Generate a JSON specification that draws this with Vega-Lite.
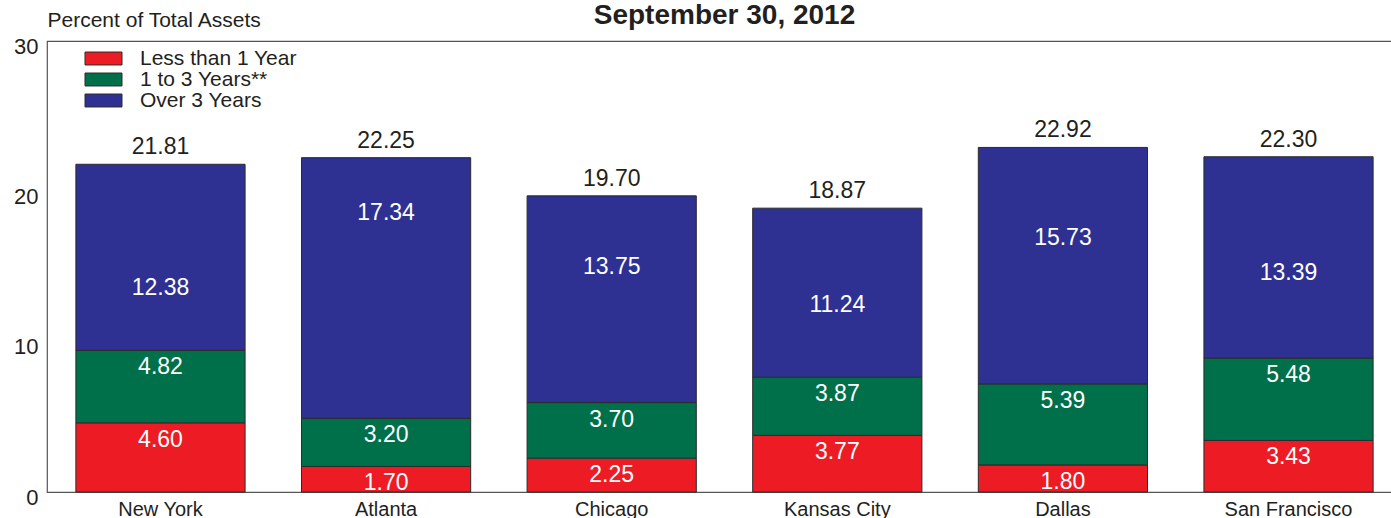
{
  "$schema": "https://vega.github.io/schema/vega-lite/v6.json",
  "autosize": "none",
  "width": 1355,
  "height": 451,
  "padding": {"left": 47, "top": 41, "right": 0, "bottom": 26},
  "background": "white",
  "config": {
    "font": "Liberation Sans",
    "view": {"stroke": "#555555", "strokeWidth": 1.2}
  },
  "title": {
    "text": "September 30, 2012",
    "fontSize": 28,
    "fontWeight": "bold",
    "color": "#231f20",
    "anchor": "middle",
    "baseline": "alphabetic",
    "offset": -13,
    "dy": 30
  },
  "datasets": {
    "segments": [
      {"region": "New York", "term": "Less than 1 Year", "value": 4.60},
      {"region": "New York", "term": "1 to 3 Years**", "value": 4.82},
      {"region": "New York", "term": "Over 3 Years", "value": 12.38},
      {"region": "Atlanta", "term": "Less than 1 Year", "value": 1.70},
      {"region": "Atlanta", "term": "1 to 3 Years**", "value": 3.20},
      {"region": "Atlanta", "term": "Over 3 Years", "value": 17.34},
      {"region": "Chicago", "term": "Less than 1 Year", "value": 2.25},
      {"region": "Chicago", "term": "1 to 3 Years**", "value": 3.70},
      {"region": "Chicago", "term": "Over 3 Years", "value": 13.75},
      {"region": "Kansas City", "term": "Less than 1 Year", "value": 3.77},
      {"region": "Kansas City", "term": "1 to 3 Years**", "value": 3.87},
      {"region": "Kansas City", "term": "Over 3 Years", "value": 11.24},
      {"region": "Dallas", "term": "Less than 1 Year", "value": 1.80},
      {"region": "Dallas", "term": "1 to 3 Years**", "value": 5.39},
      {"region": "Dallas", "term": "Over 3 Years", "value": 15.73},
      {"region": "San Francisco", "term": "Less than 1 Year", "value": 3.43},
      {"region": "San Francisco", "term": "1 to 3 Years**", "value": 5.48},
      {"region": "San Francisco", "term": "Over 3 Years", "value": 13.39}
    ],
    "totals": [
      {"region": "New York", "total": 21.81},
      {"region": "Atlanta", "total": 22.25},
      {"region": "Chicago", "total": 19.70},
      {"region": "Kansas City", "total": 18.87},
      {"region": "Dallas", "total": 22.92},
      {"region": "San Francisco", "total": 22.30}
    ]
  },
  "layer": [
    {
      "data": {"name": "segments"},
      "transform": [
        {"calculate": "indexof(['Less than 1 Year','1 to 3 Years**','Over 3 Years'], datum.term)", "as": "ord"},
        {"stack": "value", "groupby": ["region"], "sort": [{"field": "ord", "order": "ascending"}], "as": ["y0", "y1"]}
      ],
      "layer": [
        {
          "mark": {"type": "bar", "stroke": "#2b2b2b", "strokeWidth": 1},
          "encoding": {
            "x": {
              "field": "region", "type": "nominal",
              "scale": {"domain": ["New York", "Atlanta", "Chicago", "Kansas City", "Dallas", "San Francisco"], "paddingInner": 0.25, "paddingOuter": 0.128},
              "axis": {"title": null, "domain": false, "ticks": false, "labelAngle": 0, "labelFontSize": 20, "labelColor": "#231f20", "labelPadding": 7}
            },
            "y": {
              "field": "y1", "type": "quantitative",
              "scale": {"domain": [0, 30], "nice": false},
              "axis": {
                "title": "Percent of Total Assets", "titleAngle": 0, "titleAlign": "left", "titleBaseline": "middle",
                "titleX": 0, "titleY": -21, "titleFontSize": 21, "titleFontWeight": "normal", "titleColor": "#231f20",
                "values": [0, 10, 20, 30], "domain": false, "ticks": false, "grid": false,
                "labelFontSize": 22, "labelColor": "#231f20", "labelPadding": 9, "labelOffset": 5
              }
            },
            "y2": {"field": "y0"},
            "color": {
              "field": "term", "type": "nominal",
              "scale": {"domain": ["Less than 1 Year", "1 to 3 Years**", "Over 3 Years"], "range": ["#ED1C24", "#00704A", "#2E3192"]},
              "legend": {
                "title": null, "orient": "none", "legendX": 46, "legendY": 7,
                "symbolType": "M-2,-0.7L2,-0.7L2,0.7L-2,0.7Z", "symbolSize": 342,
                "symbolStrokeColor": "#2b2b2b", "symbolStrokeWidth": 1, "symbolOpacity": 1,
                "labelFontSize": 21, "labelColor": "#231f20", "labelOffset": 26, "rowPadding": -4
              }
            }
          }
        },
        {
          "transform": [{"filter": "datum.ord < 2"}],
          "mark": {"type": "text", "color": "white", "fontSize": 23, "baseline": "middle", "dy": 17},
          "encoding": {
            "x": {"field": "region", "type": "nominal"},
            "y": {"field": "y1", "type": "quantitative"},
            "text": {"field": "value", "type": "quantitative", "format": ".2f"}
          }
        },
        {
          "transform": [{"filter": "datum.ord == 2"}],
          "mark": {"type": "text", "color": "white", "fontSize": 23, "baseline": "middle", "dy": -18},
          "encoding": {
            "x": {"field": "region", "type": "nominal"},
            "y": {"field": "value", "type": "quantitative"},
            "text": {"field": "value", "type": "quantitative", "format": ".2f"}
          }
        }
      ]
    },
    {
      "data": {"name": "totals"},
      "mark": {"type": "text", "color": "#231f20", "fontSize": 23, "baseline": "middle", "dy": -17},
      "encoding": {
        "x": {"field": "region", "type": "nominal"},
        "y": {"field": "total", "type": "quantitative"},
        "text": {"field": "total", "type": "quantitative", "format": ".2f"}
      }
    }
  ]
}
